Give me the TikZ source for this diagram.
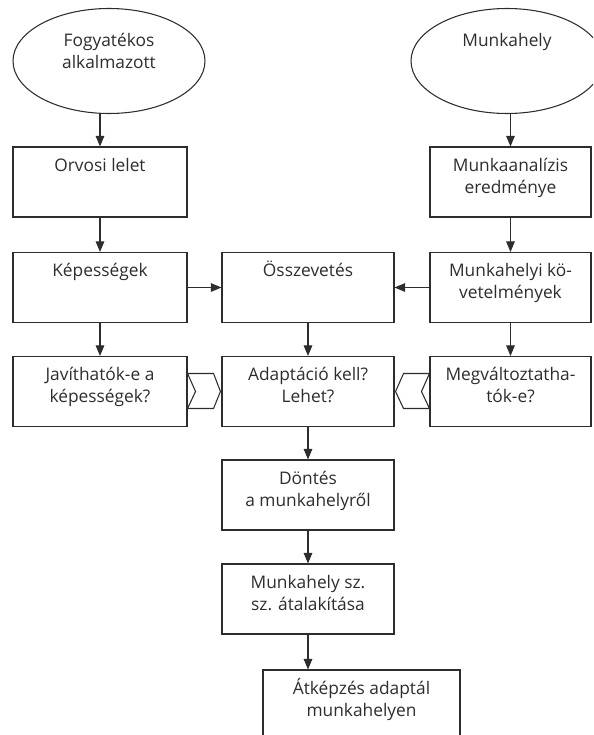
\documentclass[tikz,border=0pt]{standalone}
\usepackage{fontspec}
\setmainfont{Open Sans}
\usetikzlibrary{arrows.meta,calc,shapes.geometric}
\definecolor{ink}{RGB}{45,45,45}
\begin{document}
\begin{tikzpicture}[x=0.75pt,y=-0.75pt,
		line width=0.8pt,draw=ink,
		>={Triangle[length=8pt,width=6.5pt]},
		txt/.style={text=ink,font=\fontsize{13}{16.5}\selectfont,align=center},
		oval/.style={txt,draw,ellipse,inner sep=0pt,minimum width=144pt,minimum height=78.75pt,text height=24pt,text depth=12pt},
		box/.style={txt,draw,rectangle,inner sep=0pt,minimum height=52.5pt,text height=34.5pt,text depth=18pt},
		chev/.style={draw,fill=white}]
		\useasboundingbox (0,0) rectangle (593,735);
		\clip (0,0) rectangle (593,735);
		\node[oval] (fogy) at (109,61) {Fogyatékos\\alkalmazott};
		\node[oval] (munk) at (507,61) {Munkahely\\\mbox{}};
		\node[box,minimum width=130.5pt] (orvos) at (100,182) {Orvosi lelet\\\mbox{}};
		\node[box,minimum width=120.75pt] (anal) at (510.5,182) {Munkaanalízis\\eredménye};
		\node[box,minimum width=130.5pt] (kep) at (100,287.5) {Képességek\\\mbox{}};
		\node[box,minimum width=129pt] (ossz) at (308,287.5) {Összevetés\\\mbox{}};
		\node[box,minimum width=120.75pt] (kov) at (510.5,287.5) {Munkahelyi kö-\\vetelmények};
		\node[box,minimum width=130.5pt] (jav) at (100,391.5) {Javíthatók-e a\\képességek?};
		\node[box,minimum width=129pt] (adapt) at (308,391.5) {Adaptáció kell?\\Lehet?};
		\node[box,minimum width=120.75pt] (valt) at (510.5,391.5) {Megváltoztatha-\\tók-e?};
		\node[box,minimum width=129pt] (dont) at (308,495) {Döntés\\a munkahelyről};
		\node[box,minimum width=129pt] (msz) at (308,599) {Munkahely sz.\\sz. átalakítása};
		\node[box,minimum width=147.75pt] (atk) at (361.5,705) {Átképzés adaptál\\munkahelyen};
		\draw[->] (fogy.south -| orvos.north) -- (orvos.north);
		\draw[->] (orvos) -- (kep);
		\draw[->] (kep) -- (jav);
		\draw[->] (munk.south -| anal.north) -- (anal.north);
		\draw[->] (anal) -- (kov);
		\draw[->] (kov) -- (valt);
		\draw[->] (kep) -- (ossz);
		\draw[->] (kov) -- (ossz);
		\draw[->] (ossz) -- (adapt);
		\draw[->] (adapt) -- (dont);
		\draw[->] (dont) -- (msz);
		\draw[->] (msz.south) -- (msz.south |- atk.north);
		\draw[chev] ($(jav.east)+(0,-18)$) -- ($(jav.east)+(26,-18)$) -- ($(adapt.west)+(-1,0)$)
			-- ($(jav.east)+(26,17)$) -- ($(jav.east)+(0,17)$) -- ($(jav.east)+(8,0)$) -- cycle;
		\draw[chev] ($(valt.west)+(0,-18)$) -- ($(adapt.east)+(9,-18)$) -- ($(adapt.east)+(1,0)$)
			-- ($(adapt.east)+(9,17)$) -- ($(valt.west)+(0,17)$) -- ($(valt.west)+(-8,0)$) -- cycle;
	\end{tikzpicture}
\end{document}
